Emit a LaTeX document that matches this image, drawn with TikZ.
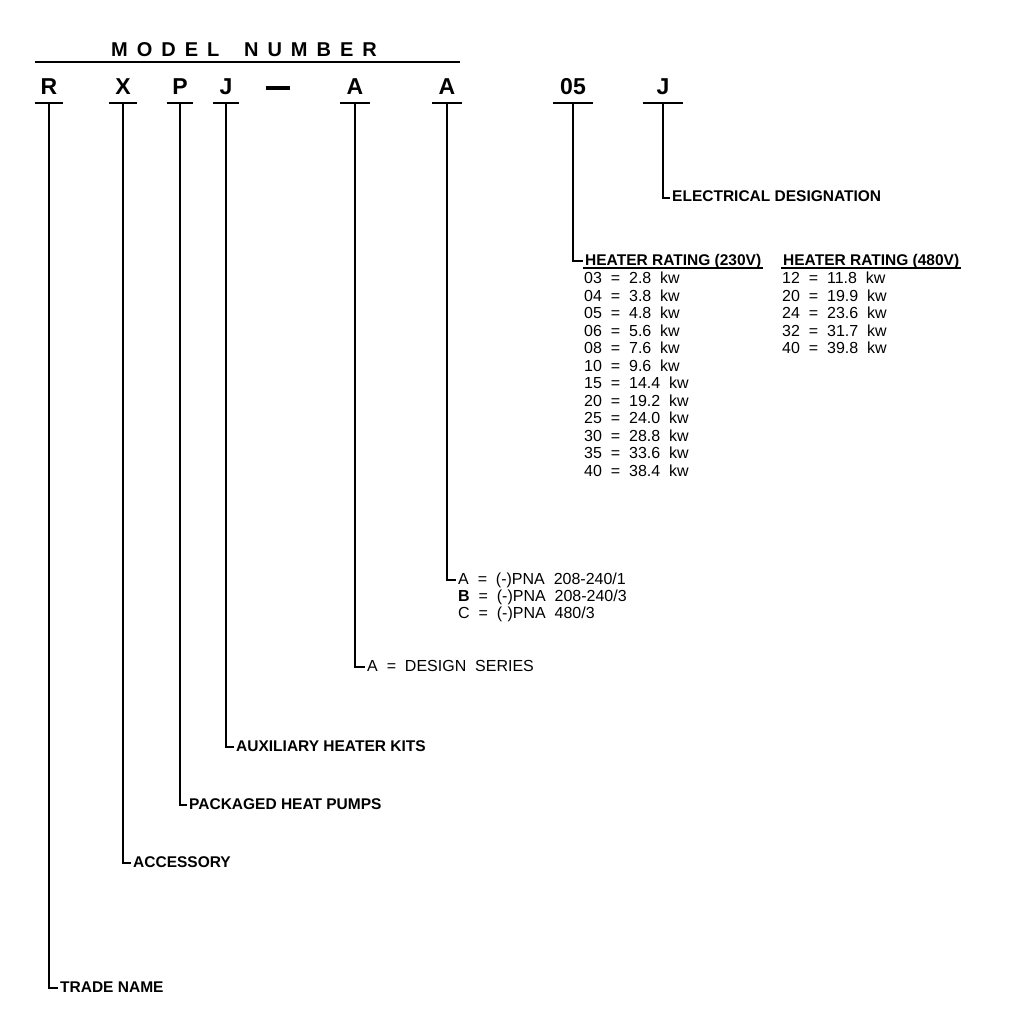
\documentclass[tikz,border=0pt]{standalone}
\usepackage{fontspec}
\setmainfont{Liberation Sans}
\newfontfamily\tabfont[WordSpace=2.0]{Liberation Sans}
\newfontfamily\wideft[LetterSpace=45,WordSpace=1.7]{Liberation Sans}
\tikzset{
  code/.style={font=\fontsize{23}{23}\selectfont\bfseries,inner xsep=0pt,inner ysep=8pt,
    text height=16pt,text depth=0pt,minimum width=28pt,anchor=south},
  bar/.style={line width=2pt},
  rule/.style={line width=2.4pt},
  lead/.style={line width=1.5pt},
  lab/.style={font=\fontsize{15.5}{15.5}\selectfont\bfseries,anchor=west,inner xsep=2pt,inner ysep=0pt,
    text height=8pt,text depth=0pt},
  val/.style={font=\fontsize{16}{16}\selectfont\tabfont,anchor=west,inner xsep=2pt,inner ysep=0pt,
    text height=8pt,text depth=0pt},
}
\begin{document}
\begin{tikzpicture}[x=1pt,y=-1pt]
  \useasboundingbox (0,0) rectangle (1008,1024);
  % heading
  \node[font=\fontsize{20}{20}\selectfont\wideft\bfseries,anchor=base,inner sep=0pt] (title) at (244,57) {MODEL NUMBER};
  \draw[rule] (35,62) -- (460,62);
  % code letters
  \node[code] (cR) at (49,103) {R};
  \node[code] (cX) at (123,103) {X};
  \node[code,minimum width=26pt] (cP) at (180,103) {P};
  \node[code,minimum width=26pt] (cJ) at (226,103) {J};
  \node[fill=black,inner sep=0pt,minimum width=24pt,minimum height=4pt] (dash) at (278,88.5) {};
  \node[code,minimum width=29pt] (cA) at (355,103) {A};
  \node[code,minimum width=30pt] (cB) at (447,103) {A};
  \node[code,minimum width=39pt] (cH) at (573,103) {05};
  \node[code,minimum width=40pt] (cE) at (663,103) {J};
  \foreach \n in {cR,cX,cP,cJ,cA,cB,cH,cE}
    \draw[bar] (\n.south west) -- (\n.south east);
  % labels
  \node[lab] (tn) at (58,988) {TRADE NAME};
  \node[lab] (acc) at (131,863) {ACCESSORY};
  \node[lab] (php) at (187,805) {PACKAGED HEAT PUMPS};
  \node[lab] (ahk) at (234,747) {AUXILIARY HEATER KITS};
  \node[val] (ds) at (365,667) {A = DESIGN SERIES};
  \node[val] (pa) at (456,580) {A = (-)PNA 208-240/1};
  \node[val] (pb) at (456,597) {\textbf{B} = (-)PNA 208-240/3};
  \node[val] (pc) at (456,614) {C = (-)PNA 480/3};
  \node[lab] (elec) at (670,198) {ELECTRICAL DESIGNATION};
  \node[lab] (hlo) at (583,261) {HEATER RATING (230V)};
  \node[lab] (hhi) at (781,261) {HEATER RATING (480V)};
  \draw[bar] ([yshift=-3pt]hlo.base west) -- ([yshift=-3pt]hlo.base east);
  \draw[bar] ([yshift=-3pt]hhi.base west) -- ([yshift=-3pt]hhi.base east);
  % rating tables
  \foreach \c/\v [count=\i] in {03/2.8,04/3.8,05/4.8,06/5.6,08/7.6,10/9.6,15/14.4,20/19.2,25/24.0,30/28.8,35/33.6,40/38.4}
    \node[val] (lo\i) at (582,{279.5+(\i-1)*17.5}) {\c\ =\ \v\ kw};
  \foreach \c/\v [count=\i] in {12/11.8,20/19.9,24/23.6,32/31.7,40/39.8}
    \node[val] (hi\i) at (780,{279.5+(\i-1)*17.5}) {\c\ =\ \v\ kw};
  % leaders
  \draw[lead] (cR.south) |- (tn.west);
  \draw[lead] (cX.south) |- (acc.west);
  \draw[lead] (cP.south) |- (php.west);
  \draw[lead] (cJ.south) |- (ahk.west);
  \draw[lead] (cA.south) |- (ds.west);
  \draw[lead] (cB.south) |- (pa.west);
  \draw[lead] (cH.south) |- (hlo.west);
  \draw[lead] (cE.south) |- (elec.west);
\end{tikzpicture}
\end{document}
